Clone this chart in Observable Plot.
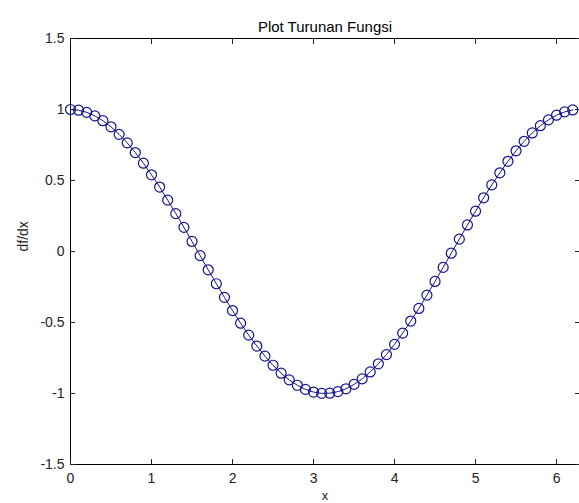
<!DOCTYPE html>
<html>
<head>
<meta charset="utf-8">
<script src="https://cdn.jsdelivr.net/npm/d3@7"></script>
<script src="https://cdn.jsdelivr.net/npm/@observablehq/plot@0.6"></script>
<style>
  html, body { margin: 0; padding: 0; background: #fff; }
  svg { display: block; }
</style>
</head>
<body>
<div id="chart"></div>
<script>
const xs = [0.0,0.1,0.2,0.3,0.4,0.5,0.6,0.7,0.8,0.9,1.0,1.1,1.2,1.3,1.4,1.5,1.6,1.7,1.8,1.9,2.0,2.1,2.2,2.3,2.4,2.5,2.6,2.7,2.8,2.9,3.0,3.1,3.2,3.3,3.4,3.5,3.6,3.7,3.8,3.9,4.0,4.1,4.2,4.3,4.4,4.5,4.6,4.7,4.8,4.9,5.0,5.1,5.2,5.3,5.4,5.5,5.6,5.7,5.8,5.9,6.0,6.1,6.2];
const ys = [1.000,0.995,0.980,0.955,0.921,0.878,0.825,0.765,0.697,0.622,0.540,0.454,0.362,0.267,0.170,0.071,-0.029,-0.129,-0.227,-0.323,-0.416,-0.505,-0.589,-0.666,-0.737,-0.801,-0.857,-0.904,-0.942,-0.971,-0.990,-0.999,-0.998,-0.987,-0.967,-0.936,-0.897,-0.848,-0.791,-0.726,-0.654,-0.575,-0.490,-0.401,-0.307,-0.211,-0.112,-0.012,0.087,0.187,0.284,0.378,0.469,0.554,0.635,0.709,0.776,0.835,0.886,0.927,0.960,0.983,0.997];
const xTicks = [0,1,2,3,4,5,6];
const yTicks = [-1.5,-1,-0.5,0,0.5,1,1.5];
const title = "Plot Turunan Fungsi";
const xLabel = "x";
const yLabel = "df/dx";

const data = xs.map((x, i) => ({x, y: ys[i]}));
const color = "#14148c";
const font = "Liberation Sans, Arial, sans-serif";

const chart = Plot.plot({
  width: 579,
  height: 503,
  marginLeft: 70,
  marginRight: 0,
  marginTop: 38,
  marginBottom: 39,
  style: {fontFamily: font, fontSize: "14px", color: "#222", background: "#fff"},
  x: {domain: [0, 6.2832], label: null},
  y: {domain: [-1.5, 1.5], label: null},
  marks: [
    Plot.frame({stroke: "#000", strokeWidth: 1}),
    Plot.axisX({ticks: xTicks, tickSize: 0, tickPadding: 9, tickFormat: d => String(d), fontSize: 14, fill: "#222"}),
    Plot.axisX({ticks: xTicks, tickSize: -5, text: null}),
    Plot.axisX({ticks: xTicks, anchor: "top", tickSize: -5, text: null}),
    Plot.axisY({ticks: yTicks, tickSize: 0, tickPadding: 6, tickFormat: d => String(d), fontSize: 14, fill: "#222"}),
    Plot.axisY({ticks: yTicks, tickSize: -5, text: null}),
    Plot.axisY({ticks: yTicks, anchor: "right", tickSize: -5, text: null}),
    Plot.line(data, {x: "x", y: "y", stroke: color, strokeWidth: 1}),
    Plot.dot(data, {x: "x", y: "y", r: 5, stroke: color, strokeWidth: 1.2, fill: "none"}),
    Plot.text([title], {frameAnchor: "top", dy: -17, text: d => d, fontSize: 15, fill: "#000"}),
    Plot.text([xLabel], {frameAnchor: "bottom", dy: 35, text: d => d, fontSize: 13, fill: "#222"}),
    Plot.text([yLabel], {frameAnchor: "left", dx: -47, rotate: -90, text: d => d, fontSize: 14, fill: "#222"})
  ]
});
document.getElementById("chart").appendChild(chart);
</script>
</body>
</html>
